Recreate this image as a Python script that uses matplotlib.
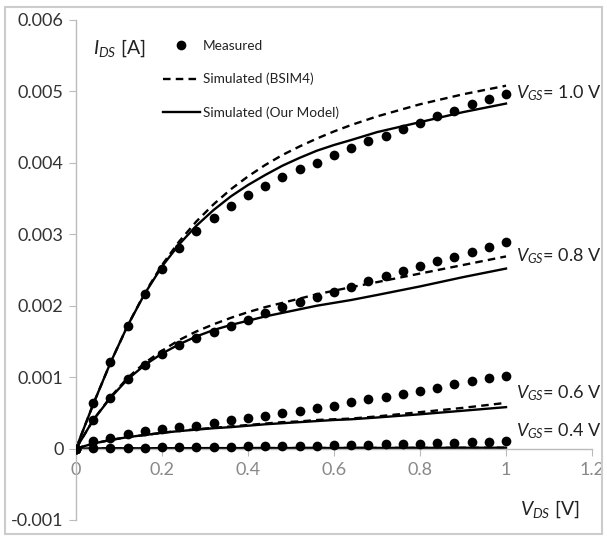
import matplotlib
matplotlib.use("Agg")
import matplotlib.pyplot as plt
from matplotlib.lines import Line2D
from matplotlib.patches import Rectangle
import numpy as np

plt.rcParams['font.family'] = ['Lato', 'DejaVu Sans']
plt.rcParams['mathtext.fontset'] = 'custom'
plt.rcParams['mathtext.it'] = 'Lato:italic'
plt.rcParams['mathtext.rm'] = 'Lato'

# Measured data (V_DS step 0.04 V), I_DS in mA
vds_meas = [0.00, 0.04, 0.08, 0.12, 0.16, 0.20, 0.24, 0.28, 0.32, 0.36, 0.40, 0.44, 0.48,
            0.52, 0.56, 0.60, 0.64, 0.68, 0.72, 0.76, 0.80, 0.84, 0.88, 0.92, 0.96, 1.00]
meas_10 = [0.00, 0.64, 1.21, 1.72, 2.16, 2.51, 2.81, 3.04, 3.23, 3.40, 3.55, 3.67, 3.80,
           3.91, 4.00, 4.11, 4.21, 4.30, 4.38, 4.47, 4.56, 4.66, 4.73, 4.82, 4.89, 4.97]
meas_08 = [0.00, 0.40, 0.71, 0.98, 1.17, 1.32, 1.45, 1.55, 1.63, 1.72, 1.80, 1.90, 1.98,
           2.05, 2.12, 2.19, 2.26, 2.35, 2.42, 2.48, 2.55, 2.62, 2.68, 2.75, 2.82, 2.89]
meas_06 = [0.00, 0.10, 0.15, 0.20, 0.24, 0.27, 0.30, 0.32, 0.36, 0.40, 0.43, 0.45, 0.50,
           0.53, 0.57, 0.60, 0.65, 0.69, 0.72, 0.76, 0.81, 0.85, 0.90, 0.94, 0.99, 1.02]
meas_04 = [0.000, 0.005, 0.010, 0.012, 0.015, 0.018, 0.020, 0.022, 0.025, 0.028, 0.030, 0.033, 0.036,
           0.040, 0.043, 0.047, 0.050, 0.055, 0.060, 0.065, 0.070, 0.075, 0.080, 0.088, 0.095, 0.105]

# Simulated curves (V_DS, I_DS in mA)
vds_sim = [0.00, 0.04, 0.08, 0.12, 0.16, 0.20, 0.24, 0.28, 0.32, 0.36, 0.40, 0.44, 0.48,
           0.52, 0.56, 0.60, 0.64, 0.70, 0.80, 0.90, 1.00]
bsim_10 = [0.00, 0.62, 1.20, 1.72, 2.18, 2.57, 2.90, 3.18, 3.42, 3.63, 3.81, 3.97, 4.11,
           4.23, 4.34, 4.44, 4.53, 4.65, 4.82, 4.96, 5.08]
ours_10 = [0.00, 0.62, 1.20, 1.72, 2.17, 2.55, 2.86, 3.12, 3.34, 3.53, 3.69, 3.83, 3.96,
           4.07, 4.17, 4.25, 4.32, 4.43, 4.57, 4.71, 4.83]
bsim_08 = [0.00, 0.40, 0.72, 0.99, 1.20, 1.37, 1.52, 1.64, 1.74, 1.83, 1.91, 1.98, 2.04,
           2.10, 2.16, 2.21, 2.26, 2.33, 2.45, 2.57, 2.69]
ours_08 = [0.00, 0.40, 0.71, 0.97, 1.17, 1.33, 1.46, 1.57, 1.66, 1.73, 1.79, 1.85, 1.90,
           1.95, 2.00, 2.04, 2.08, 2.15, 2.27, 2.40, 2.52]
bsim_06 = [0.00, 0.07, 0.12, 0.16, 0.19, 0.22, 0.25, 0.27, 0.29, 0.31, 0.33, 0.35, 0.37,
           0.38, 0.40, 0.41, 0.42, 0.45, 0.51, 0.57, 0.64]
ours_06 = [0.00, 0.07, 0.12, 0.16, 0.19, 0.22, 0.245, 0.265, 0.285, 0.30, 0.32, 0.34, 0.355,
           0.37, 0.385, 0.40, 0.41, 0.435, 0.48, 0.53, 0.58]
bsim_04 = [0.000, 0.002, 0.003, 0.004, 0.004, 0.005, 0.005, 0.006, 0.006, 0.006, 0.007, 0.007, 0.007,
           0.008, 0.008, 0.008, 0.009, 0.009, 0.010, 0.011, 0.012]
ours_04 = [0.000, 0.002, 0.003, 0.004, 0.004, 0.005, 0.005, 0.006, 0.006, 0.006, 0.007, 0.007, 0.007,
           0.008, 0.008, 0.008, 0.009, 0.009, 0.010, 0.011, 0.012]

vgs_labels = ["1.0", "0.8", "0.6", "0.4"]
label_y = [4.97, 2.70, 0.78, 0.24]  # mA, label anchor heights

x_ticks = [0, 0.2, 0.4, 0.6, 0.8, 1.0, 1.2]
x_ticklabels = ["0", "0.2", "0.4", "0.6", "0.8", "1", "1.2"]
y_ticks = [-0.001, 0, 0.001, 0.002, 0.003, 0.004, 0.005, 0.006]
y_ticklabels = ["-0.001", "0", "0.001", "0.002", "0.003", "0.004", "0.005", "0.006"]

W, H = 607, 537
fig = plt.figure(figsize=(W / 100, H / 100), dpi=100)
ax = fig.add_axes([76 / W, (H - 520) / H, (592 - 76) / W, 500 / H])

def A(lst):
    return np.array(lst) * 1e-3

dash = (0, (3.2, 2.2))
lw = 1.7
for bs, ou in [(bsim_10, ours_10), (bsim_08, ours_08), (bsim_06, ours_06), (bsim_04, ours_04)]:
    ax.plot(vds_sim, A(bs), color='black', lw=lw, linestyle=dash, zorder=2)
    ax.plot(vds_sim, A(ou), color='black', lw=lw, zorder=2)
for m in [meas_10, meas_08, meas_06, meas_04]:
    ax.plot(vds_meas, A(m), 'o', color='black', ms=7, mec='none', zorder=3)

ax.set_xlim(0, 1.2)
ax.set_ylim(-0.001, 0.006)

ax.spines['top'].set_visible(False)
ax.spines['right'].set_visible(False)
ax.spines['bottom'].set_position(('data', 0))
for s in ['left', 'bottom']:
    ax.spines[s].set_color('#bbbbbb')
    ax.spines[s].set_linewidth(1.0)

ax.set_xticks(x_ticks)
ax.set_xticklabels(x_ticklabels, fontsize=13, color='#888888')
ax.set_yticks(y_ticks)
ax.set_yticklabels(y_ticklabels, fontsize=13, color='#333333')
ax.tick_params(axis='x', direction='out', length=5, color='#bbbbbb', pad=5)
ax.tick_params(axis='y', direction='out', length=5, color='#bbbbbb', pad=4)

# VGS labels
for lab, yv in zip(vgs_labels, label_y):
    ax.text(1.024, yv * 1e-3, r"$V_{GS}$" + "= " + lab + " V", fontsize=13,
            va='center', ha='left', color='#222222', clip_on=False)

# Axis labels
ax.text(0.04, 0.0056, r"$I_{DS}$ [A]", fontsize=14, color='#222222', va='center')
ax.text(1.033, -0.00085, r"$V_{DS}$ [V]", fontsize=14, color='#222222', va='center', ha='left')

# Legend
handles = [
    Line2D([], [], marker='o', color='black', ls='none', ms=7, mec='none'),
    Line2D([], [], color='black', lw=lw, linestyle=dash),
    Line2D([], [], color='black', lw=lw),
]
labels = ["Measured", "Simulated (BSIM4)", "Simulated (Our Model)"]
leg = ax.legend(handles, labels, loc='upper left', bbox_to_anchor=(0.145, 0.985),
                frameon=False, fontsize=9.8, handlelength=2.7, handletextpad=0.2,
                labelspacing=1.55)
for t in leg.get_texts():
    t.set_color('#222222')

# Figure border
fig.patches.append(Rectangle((5 / W, 3 / H), (W - 10) / W, (H - 10) / H,
                             transform=fig.transFigure, fill=False,
                             edgecolor='#cccccc', lw=1.5))

fig.savefig("out.png", dpi=100)
